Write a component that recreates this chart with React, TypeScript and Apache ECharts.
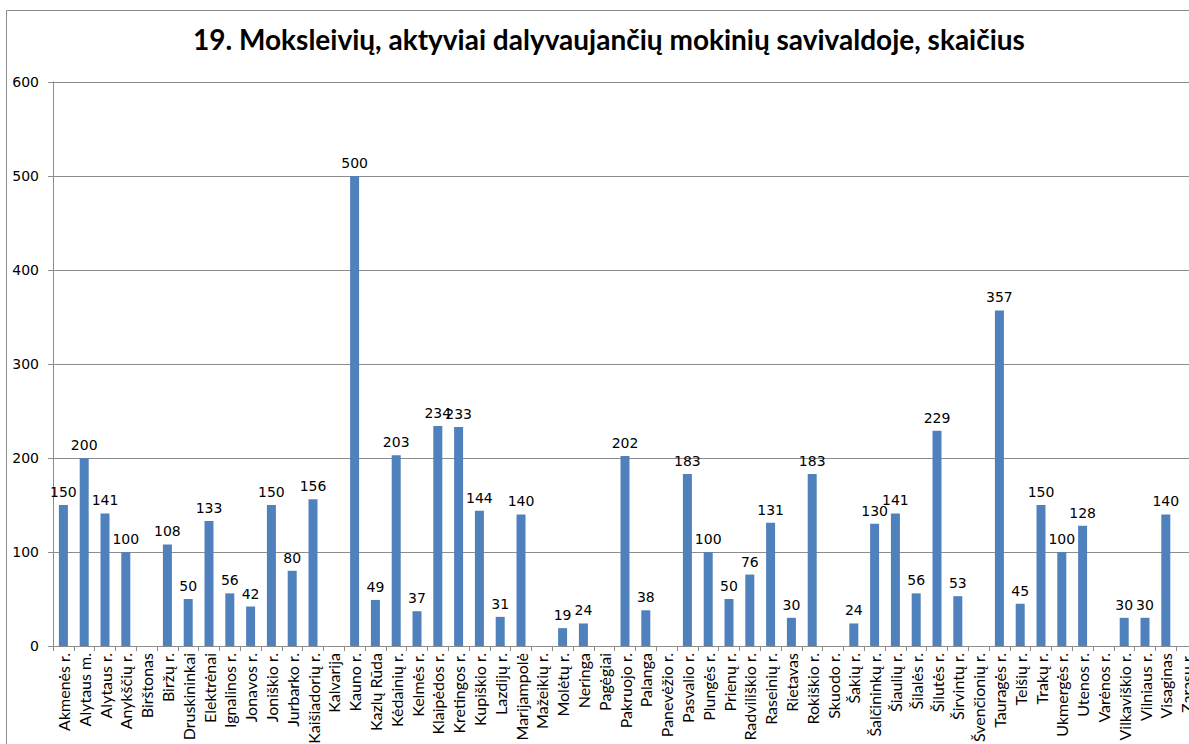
import React, { useEffect, useRef } from "react";
import * as echarts from "echarts";

const titleText = "19. Moksleivių, aktyviai dalyvaujančių mokinių savivaldoje, skaičius";

const categories: string[] = [
  "Akmenės r.", "Alytaus m.", "Alytaus r.", "Anykščių r.", "Birštonas", "Biržų r.",
  "Druskininkai", "Elektrėnai", "Ignalinos r.", "Jonavos r.", "Joniškio r.", "Jurbarko r.",
  "Kaišiadorių r.", "Kalvarija", "Kauno r.", "Kazlų Rūda", "Kėdainių r.", "Kelmės r.",
  "Klaipėdos r.", "Kretingos r.", "Kupiškio r.", "Lazdijų r.", "Marijampolė", "Mažeikių r.",
  "Molėtų r.", "Neringa", "Pagėgiai", "Pakruojo r.", "Palanga", "Panevėžio r.",
  "Pasvalio r.", "Plungės r.", "Prienų r.", "Radviliškio r.", "Raseinių r.", "Rietavas",
  "Rokiškio r.", "Skuodo r.", "Šakių r.", "Šalčininkų r.", "Šiaulių r.", "Šilalės r.",
  "Šilutės r.", "Širvintų r.", "Švenčionių r.", "Tauragės r.", "Telšių r.", "Trakų r.",
  "Ukmergės r.", "Utenos r.", "Varėnos r.", "Vilkaviškio r.", "Vilniaus r.", "Visaginas",
  "Zarasų r.",
];

const values: (number | null)[] = [
  150, 200, 141, 100, null, 108,
  50, 133, 56, 42, 150, 80,
  156, null, 500, 49, 203, 37,
  234, 233, 144, 31, 140, null,
  19, 24, null, 202, 38, null,
  183, 100, 50, 76, 131, 30,
  183, null, 24, 130, 141, 56,
  229, 53, null, 357, 45, 150,
  100, 128, null, 30, 30, 140,
  null,
];

const yTicks = { min: 0, max: 600, interval: 100 };

export default function App() {
  const ref = useRef<HTMLDivElement>(null);
  useEffect(() => {
    if (!ref.current) return;
    const chart = echarts.init(ref.current, undefined, { renderer: "svg" });
    chart.setOption({
      animation: false,
      backgroundColor: "#ffffff",
      title: {
        text: titleText,
        left: 604,
        top: 20,
        textAlign: "center",
        textStyle: {
          fontFamily: "Lato",
          fontWeight: "bold",
          fontSize: 28,
          color: "#000000",
        },
      },
      graphic: [
        {
          type: "rect",
          shape: { x: 6.5, y: 10.5, width: 1400, height: 900 },
          style: { fill: "none", stroke: "#8c8c8c", lineWidth: 1 },
          silent: true,
          z: 100,
        },
      ],
      grid: { left: 53, top: 82, width: 1144, height: 564 },
      xAxis: {
        type: "category",
        data: categories,
        axisLine: { show: true, lineStyle: { color: "#8c8c8c" } },
        axisTick: { show: true, alignWithLabel: false, length: 5, lineStyle: { color: "#8c8c8c" } },
        axisLabel: {
          interval: 0,
          rotate: 90,
          margin: 7,
          fontFamily: "Lato",
          fontSize: 16,
          color: "#000000",
        },
      },
      yAxis: {
        type: "value",
        min: yTicks.min,
        max: yTicks.max,
        interval: yTicks.interval,
        axisLine: { show: true, lineStyle: { color: "#8c8c8c" } },
        axisTick: { show: true, length: 5, lineStyle: { color: "#8c8c8c" } },
        splitLine: { show: true, lineStyle: { color: "#8c8c8c" } },
        axisLabel: {
          margin: 14,
          fontFamily: "DejaVu Sans",
          fontSize: 14,
          color: "#000000",
        },
      },
      series: [
        {
          type: "bar",
          data: values,
          barWidth: 9,
          itemStyle: { color: "#4f81bd" },
          label: {
            show: true,
            position: "top",
            distance: 6,
            fontFamily: "DejaVu Sans",
            fontSize: 14,
            color: "#000000",
          },
        },
      ],
    });
    return () => chart.dispose();
  }, []);
  return (
    <div style={{ position: "fixed", left: 0, top: 0, width: 1189, height: 744, overflow: "hidden", background: "#fff" }}>
      <div ref={ref} style={{ width: 1260, height: 820 }} />
    </div>
  );
}
